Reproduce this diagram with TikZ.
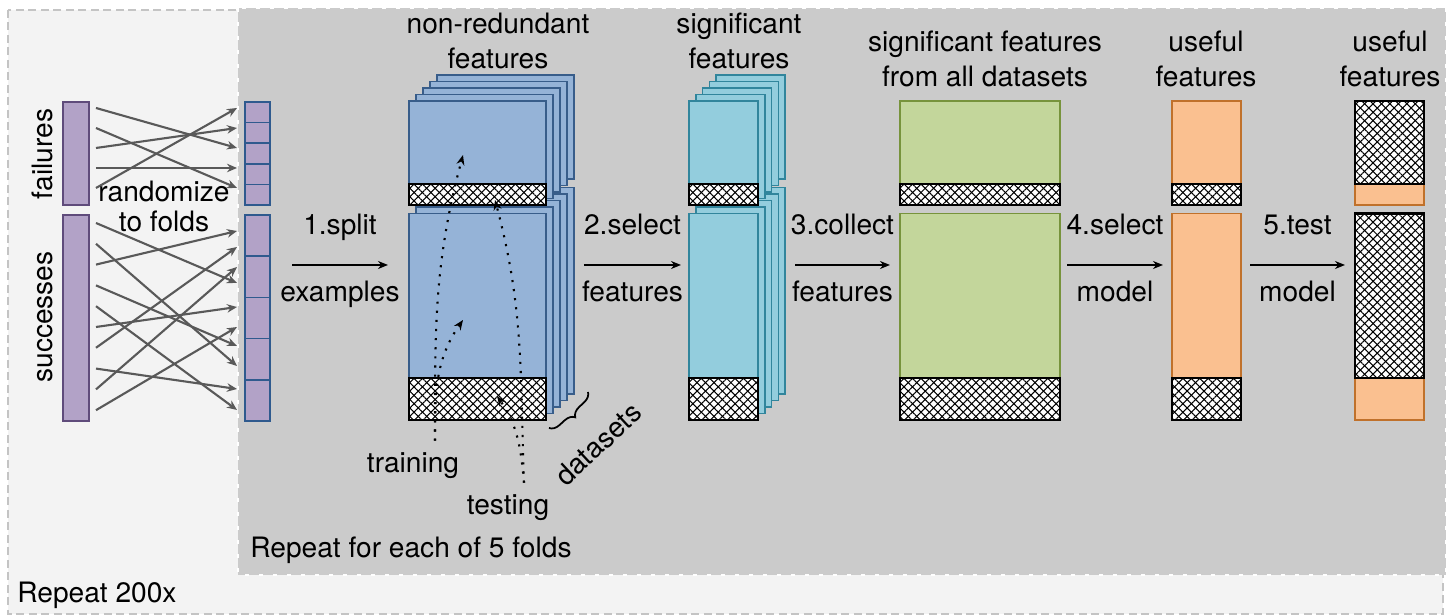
\documentclass[tikz,border=0pt]{standalone}
\usepackage{fontspec}
\setmainfont{TeX Gyre Heros}
\usetikzlibrary{arrows.meta,patterns.meta,decorations.pathreplacing,calc,positioning}

\definecolor{outerbg}{HTML}{F3F3F3}
\definecolor{innerbg}{HTML}{CBCBCB}
\definecolor{framegray}{HTML}{C4C4C4}
\definecolor{mixgray}{HTML}{595959}
\definecolor{exfill}{HTML}{B2A2C7}
\definecolor{exline}{HTML}{5F4B7B}
\definecolor{foldline}{HTML}{2F5A8E}
\definecolor{nrfill}{HTML}{95B3D7}
\definecolor{nrline}{HTML}{385D8A}
\definecolor{sigfill}{HTML}{93CDDD}
\definecolor{sigline}{HTML}{31859C}
\definecolor{allfill}{HTML}{C3D69B}
\definecolor{allline}{HTML}{77933C}
\definecolor{usefill}{HTML}{FAC090}
\definecolor{useline}{HTML}{C0712B}

\tikzset{
	flow/.style={-{Stealth[length=1mm,width=0.8mm]}, line width=0.45pt},
	mix/.style={-{Stealth[length=1mm,width=0.85mm]}, draw=mixgray, line width=0.6pt},
	hint/.style={-{Stealth[length=1mm,width=0.8mm]}, dotted, line width=0.6pt},
	hatch/.style={fill=white,
		postaction={pattern={Lines[angle=45,distance=1.7pt,line width=0.3pt]}},
		postaction={pattern={Lines[angle=-45,distance=1.7pt,line width=0.3pt]}},
		postaction={draw=black, line width=0.6pt}},
	box/.style={rectangle, draw, line width=0.5pt, inner sep=0pt, outer sep=0pt, anchor=north west},
	tophalf/.style={box, minimum height=10.4mm},
	bothalf/.style={box, minimum height=20.65mm},
	nrbox/.style={fill=nrfill, draw=nrline},
	sigbox/.style={fill=sigfill, draw=sigline},
	allbox/.style={fill=allfill, draw=allline},
	usebox/.style={fill=usefill, draw=useline},
	dsbrace/.style={decorate, decoration={brace, amplitude=1mm, mirror}, line width=0.5pt},
}

\begin{document}
\begin{tikzpicture}[x=0.1mm, y=-0.1mm, font=\fontsize{8}{10}\selectfont]
	\useasboundingbox (0,0) rectangle (1455,615);

	% the two loops
	\draw[fill=outerbg, draw=framegray, line width=0.6pt, dash pattern=on 0.8mm off 0.45mm] (8,10) rectangle (1443,614);
	\draw[fill=innerbg, draw=white, line width=0.4pt, dash pattern=on 0.4mm off 1mm] (238,8) rectangle (1446,575);
	\node[anchor=base west] (rep200) at (5,603) {Repeat 200x};
	\node[anchor=base west] (repfolds) at (238,558) {Repeat for each of 5 folds};

	% examples -> folds
	\node[box, fill=exfill, draw=exline, minimum width=2.6mm, minimum height=10.3mm] (fail) at (63,102) {};
	\node[box, fill=exfill, draw=exline, minimum width=2.6mm, minimum height=20.6mm] (succ) at (63,215) {};
	\node[rotate=90, anchor=base] (faillbl) at (52,154) {failures};
	\node[rotate=90, anchor=base] (succlbl) at (52,317) {successes};

	\node[box, fill=exfill, draw=foldline, minimum width=2.5mm, minimum height=10.3mm] (foldsA) at (245,102) {};
	\foreach \i in {1,...,4}
		\draw[foldline, line width=0.5pt] ($(foldsA.north west)+(0,20.6*\i)$) -- ($(foldsA.north east)+(0,20.6*\i)$);
	\node[box, fill=exfill, draw=foldline, minimum width=2.5mm, minimum height=20.6mm] (foldsB) at (245,215) {};
	\foreach \i in {1,...,4}
		\draw[foldline, line width=0.5pt] ($(foldsB.north west)+(0,41.2*\i)$) -- ($(foldsB.north east)+(0,41.2*\i)$);

	\foreach \a/\b in {6/46,26/86,46/26,66/66,86/6}
		\draw[mix] ($(fail.north east)+(7,\a)$) -- ($(foldsA.north west)+(-8,\b)$);
	\foreach \a/\b in {8/68,28.8/151,49.6/16,70.4/131,91.2/195,112/92,132.8/32,153.6/174,174.4/52,195.2/112}
		\draw[mix] ($(succ.north east)+(7,\a)$) -- ($(foldsB.north west)+(-8,\b)$);
	\node[anchor=base, align=center, font=\fontsize{8}{8.6}\selectfont] (rand) at (164,232) {randomize\\to folds};

	% non-redundant features
	\coordinate (nr) at (409,101);
	\foreach \k in {4,3,2,1}
		\draw[nrbox, line width=0.5pt] ($(nr)+(7*\k,112.5-6.5*\k)$) rectangle ++(137,206.5);
	\node[bothalf, nrbox, minimum width=13.7mm] (nrB) at ($(nr)+(0,112.5)$) {};
	\draw[hatch] (nrB.south west) rectangle ++(137,-42);
	\foreach \k in {4,3,2,1}
		\draw[nrbox, line width=0.5pt] ($(nr)+(7*\k,-6.5*\k)$) rectangle ++(137,104);
	\node[tophalf, nrbox, minimum width=13.7mm] (nrT) at (nr) {};
	\draw[hatch] (nrT.south west) rectangle ++(137,-21);
	\node[anchor=base, align=center] (nrlbl) at (498,69) {non-redundant\\features};

	% significant features
	\coordinate (sig) at (689,101);
	\foreach \k in {4,3,2,1}
		\draw[sigbox, line width=0.5pt] ($(sig)+(6.8*\k,112.5-6.5*\k)$) rectangle ++(69,206.5);
	\node[bothalf, sigbox, minimum width=6.9mm] (sigB) at ($(sig)+(0,112.5)$) {};
	\draw[hatch] (sigB.south west) rectangle ++(69,-42);
	\foreach \k in {4,3,2,1}
		\draw[sigbox, line width=0.5pt] ($(sig)+(6.8*\k,-6.5*\k)$) rectangle ++(69,104);
	\node[tophalf, sigbox, minimum width=6.9mm] (sigT) at (sig) {};
	\draw[hatch] (sigT.south west) rectangle ++(69,-21);
	\node[anchor=base, align=center] (siglbl) at (739,69) {significant\\features};

	% collected features
	\node[tophalf, allbox, minimum width=16mm] (allT) at (900,101) {};
	\draw[hatch] (allT.south west) rectangle ++(160,-21);
	\node[bothalf, allbox, minimum width=16mm] (allB) at (900,213.5) {};
	\draw[hatch] (allB.south west) rectangle ++(160,-42);
	\node[anchor=base, align=center] (alllbl) at (985,87) {significant features\\from all datasets};

	% useful features
	\node[tophalf, usebox, minimum width=6.9mm] (useT) at (1172,101) {};
	\draw[hatch] (useT.south west) rectangle ++(69,-21);
	\node[bothalf, usebox, minimum width=6.9mm] (useB) at (1172,213.5) {};
	\draw[hatch] (useB.south west) rectangle ++(69,-42);
	\node[anchor=base, align=center] (uselbl) at (1206,87) {useful\\features};

	\node[tophalf, usebox, minimum width=6.9mm] (testT) at (1355,101) {};
	\draw[hatch] (testT.north west) rectangle ++(69,83);
	\node[bothalf, usebox, minimum width=6.9mm] (testB) at (1355,213.5) {};
	\draw[hatch] (testB.north west) rectangle ++(69,164.5);
	\node[anchor=base, align=center] (testlbl) at (1390,87) {useful\\features};

	% steps
	\coordinate (mid) at (0,265);
	\draw[flow] ($(foldsB.east |- mid)+(22,0)$) -- ($(nrB.west |- mid)+(-21,0)$)
		node[midway, anchor=base, yshift=3mm] (s1a) {1.split}
		node[midway, anchor=base, yshift=-3.7mm] (s1b) {examples};
	\draw[flow] ($(nrB.east |- mid)+(38,0)$) -- ($(sigB.west |- mid)+(-8,0)$)
		node[midway, anchor=base, yshift=3mm] (s2a) {2.select}
		node[midway, anchor=base, yshift=-3.7mm] (s2b) {features};
	\draw[flow] ($(sigB.east |- mid)+(37,0)$) -- ($(allB.west |- mid)+(-10,0)$)
		node[midway, anchor=base, yshift=3mm] (s3a) {3.collect}
		node[midway, anchor=base, yshift=-3.7mm] (s3b) {features};
	\draw[flow] ($(allB.east |- mid)+(7,0)$) -- ($(useB.west |- mid)+(-9,0)$)
		node[midway, anchor=base, yshift=3mm] (s4a) {4.select}
		node[midway, anchor=base, yshift=-3.7mm] (s4b) {model};
	\draw[flow] ($(useB.east |- mid)+(9,0)$) -- ($(testB.west |- mid)+(-10,0)$)
		node[midway, anchor=base, yshift=3mm] (s5a) {5.test}
		node[midway, anchor=base, yshift=-3.7mm] (s5b) {model};

	% training / testing
	\node[anchor=base] (training) at (413,473) {training};
	\node[anchor=base] (testing) at (508,515) {testing};
	\coordinate (trainT) at (463,155);
	\coordinate (trainB) at (463,320);
	\coordinate (testT) at (495,200);
	\coordinate (testB) at (497,396);
	\draw[hint] ($(training.north)+(22,0)$) to[out=90,in=255] (trainT);
	\draw[hint] ($(training.north)+(22,0)$) to[out=90,in=235] (trainB);
	\draw[hint] ($(testing.north)+(16,0)$) to[out=92,in=285] (testT);
	\draw[hint] ($(testing.north)+(16,0)$) to[out=95,in=305] (testB);

	% datasets
	\draw[dsbrace] ($(nrB.south east)+(3,8)$) -- ($(nrB.south east)+(42,-28)$);
	\node[rotate=43] (datasets) at (598,444) {datasets};
\end{tikzpicture}
\end{document}
